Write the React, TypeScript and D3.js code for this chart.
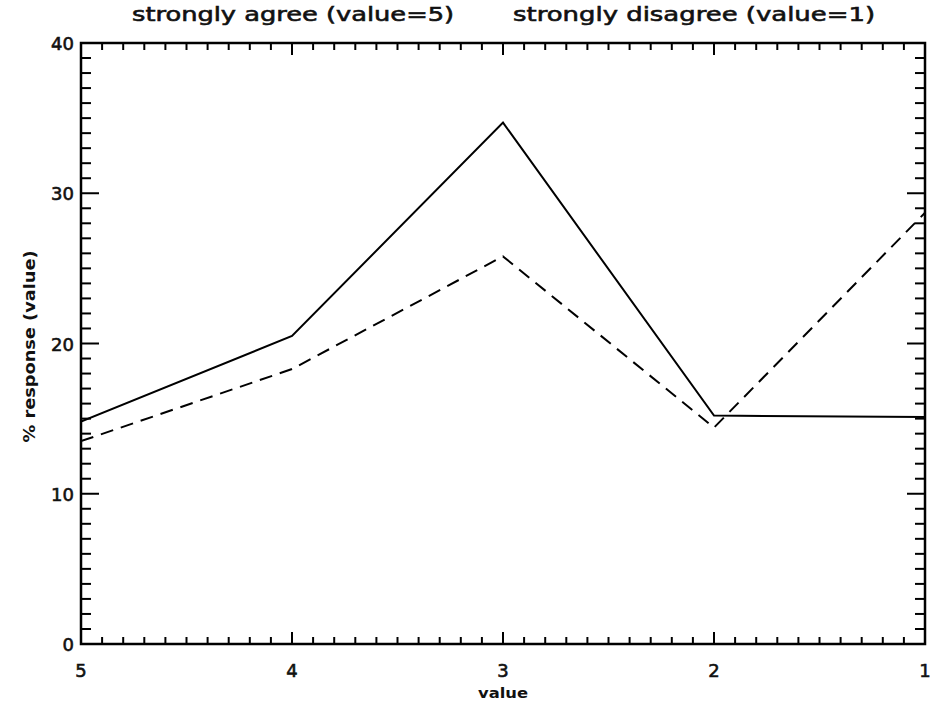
import React, { useEffect } from 'react';
import * as d3 from 'd3';

// likert scale positions, plotted from 5 down to 1
const categories = [5, 4, 3, 2, 1];
const solidValues = [14.8, 20.5, 34.7, 15.2, 15.1];
const dashedValues = [13.5, 18.3, 25.8, 14.4, 28.7];
const yTickLabels = [0, 10, 20, 30, 40];
const xTickLabels = ['5', '4', '3', '2', '1'];

const W = 930, H = 711;
const margin = { top: 43, right: 5, bottom: 67, left: 81 };

const App = () => {
    useEffect(() => {
        document.body.style.margin = '0';
    }, []);

    const x = d3.scaleLinear().domain([5, 1]).range([margin.left, W - margin.right]);
    const y = d3.scaleLinear().domain([0, 40]).range([H - margin.bottom, margin.top]);

    const line = d3.line<number>()
        .x((d, i) => x(categories[i]))
        .y(d => y(d));

    const xMinor = d3.range(10, 51).map(v => v / 10);
    const yMinor = d3.range(0, 41);

    const [x0, x1] = x.range();
    const [yb, yt] = y.range();
    const font = '"DejaVu Sans", sans-serif';

    return (
        <svg width={W} height={H} style={{ display: 'block', background: '#fff' }}>
            <defs>
                <clipPath id="plot">
                    <rect x={x0} y={yt} width={x1 - x0} height={yb - yt} />
                </clipPath>
            </defs>

            {/* minor + major ticks, all four sides */}
            <g stroke="#000" strokeWidth={2}>
                {xMinor.map(v => {
                    const major = Math.abs(v - Math.round(v)) < 1e-6;
                    const len = major ? 12 : 7;
                    return (
                        <g key={'x' + v}>
                            <line x1={x(v)} x2={x(v)} y1={yb} y2={yb - len} />
                            <line x1={x(v)} x2={x(v)} y1={yt} y2={yt + len} />
                        </g>
                    );
                })}
                {yMinor.map(v => {
                    const major = v % 10 === 0;
                    const len = major ? 18 : 10;
                    return (
                        <g key={'y' + v}>
                            <line x1={x0} x2={x0 + len} y1={y(v)} y2={y(v)} />
                            <line x1={x1} x2={x1 - len} y1={y(v)} y2={y(v)} />
                        </g>
                    );
                })}
            </g>

            <rect x={x0} y={yt} width={x1 - x0} height={yb - yt} fill="none" stroke="#000" strokeWidth={2.5} />

            <g clipPath="url(#plot)" fill="none" stroke="#000" strokeWidth={2}>
                <path d={line(solidValues) || ''} />
                <path d={line(dashedValues) || ''} strokeDasharray="13,8" />
            </g>

            <g fontFamily={font} fontSize={18} fill="#111" stroke="#111" strokeWidth={0.6}>
                {yTickLabels.map(v => (
                    <text key={v} x={x0 - 7} y={y(v)} dy="0.4em" textAnchor="end">{v}</text>
                ))}
                {xTickLabels.map(v => (
                    <text key={v} x={x(+v)} y={yb + 33} textAnchor="middle">{v}</text>
                ))}
            </g>

            <g fontFamily={font} fill="#111" stroke="#111" strokeWidth={0.6}>
                <text x={132} y={21} fontSize={20} textLength={322} lengthAdjust="spacingAndGlyphs">strongly agree (value=5)</text>
                <text x={513} y={21} fontSize={20} textLength={362} lengthAdjust="spacingAndGlyphs">strongly disagree (value=1)</text>
            </g>
            <g fontFamily={font} fontWeight="bold" fill="#111">
                <text x={(x0 + x1) / 2} y={698} fontSize={14} textAnchor="middle" textLength={50} lengthAdjust="spacingAndGlyphs">value</text>
                <text transform={`translate(35,${(yt + yb) / 2 + 3}) rotate(-90)`} fontSize={15} textAnchor="middle" textLength={192} lengthAdjust="spacingAndGlyphs">% response (value)</text>
            </g>
        </svg>
    );
};

export default App;
